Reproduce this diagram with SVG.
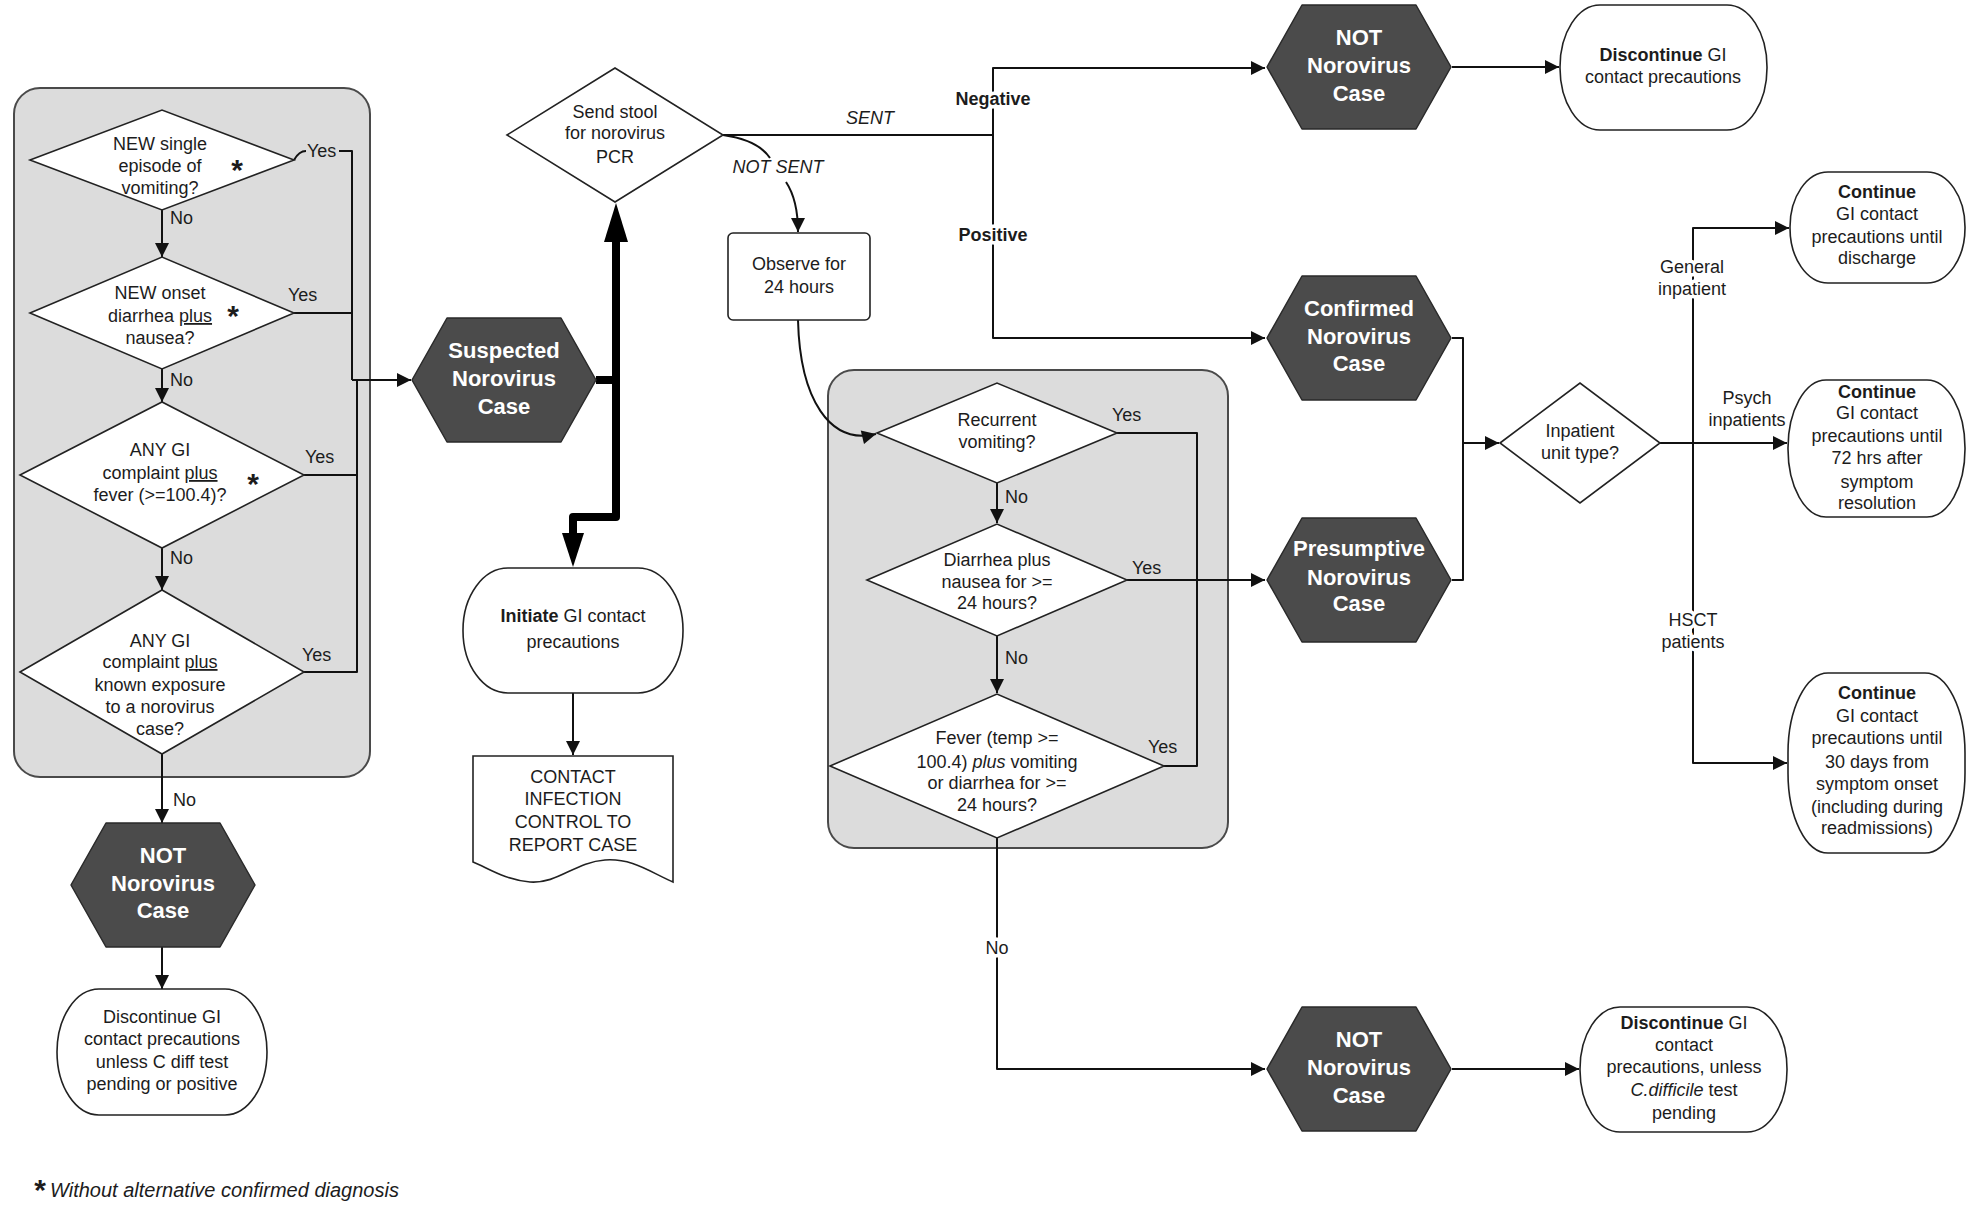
<svg xmlns="http://www.w3.org/2000/svg" width="1980" height="1212" viewBox="0 0 1980 1212">
<style>
text{font-family:"Liberation Sans",Arial,Helvetica,sans-serif;fill:#1c1c1c}
.t{font-size:18px;text-anchor:middle}
.ts{font-size:18px;text-anchor:start}
.h{font-size:22px;font-weight:bold;fill:#fff;text-anchor:middle}
.b{font-weight:bold}
.i{font-style:italic}
.u{text-decoration:underline}
.star{font-size:30px;font-weight:bold;text-anchor:middle}
.halo{stroke:#fff;stroke-width:7px;paint-order:stroke;stroke-linejoin:round}
.box{fill:#fff;stroke:#222;stroke-width:1.6}
.hex{fill:#4b4b4b;stroke:#2a2a2a;stroke-width:1.5;stroke-linejoin:round}
.cont{fill:#dcdcdc;stroke:#4a4a4a;stroke-width:2}
.ln{fill:none;stroke:#111;stroke-width:2;stroke-linejoin:round}
.lnt{fill:none;stroke:#000;stroke-width:8;stroke-linejoin:round}
.arr{marker-end:url(#ah)}
</style>
<defs>
<marker id="ah" viewBox="0 0 10 10" refX="10" refY="5" markerUnits="userSpaceOnUse" markerWidth="18" markerHeight="14" orient="auto">
<path d="M0,0 L10,5 L0,10 Z" fill="#111"/>
</marker>
<path id="hexp" d="M-92,0 L-57,-62 L57,-62 L92,0 L57,62 L-57,62 Z"/>
</defs>

<!-- containers -->
<g id="container1"><rect class="cont" x="14" y="88" width="356" height="689" rx="26"/></g>
<g id="container2"><rect class="cont" x="828" y="370" width="400" height="478" rx="26"/></g>

<!-- connectors -->
<g id="connectors">
<path class="ln arr" d="M162,210 V257"/>
<path class="ln arr" d="M162,369 V402"/>
<path class="ln arr" d="M162,548 V590"/>
<path class="ln arr" d="M162,754 V823"/>
<path class="ln arr" d="M162,947 V989"/>
<path class="ln" d="M294,160 Q299,151 306,151"/>
<path class="ln" d="M339,151 H352 V380"/>
<path class="ln" d="M294,313 H352"/>
<path class="ln" d="M304,475 H357 V380"/>
<path class="ln" d="M304,672 H357 V380"/>
<path class="ln arr" d="M352,380 H411"/>
<path class="lnt" d="M596,380 H616 V240"/>
<polygon points="604,242 628,242 616,203" fill="#000"/>
<path class="lnt" d="M616,380 V517 H573 V536"/>
<polygon points="562,533 584,533 573,567" fill="#000"/>
<path class="ln arr" d="M573,693 V755"/>
<path class="ln" d="M723,135 H993"/>
<path class="ln arr" d="M993,135 V68 H1265"/>
<path class="ln arr" d="M993,135 V338 H1265"/>
<path class="ln" d="M723,135 Q758,140 770,158"/>
<path class="ln arr" d="M786,182 Q798,200 798,232"/>
<path class="ln arr" d="M798,320 C800,400 830,445 876,434"/>
<path class="ln arr" d="M997,483 V523"/>
<path class="ln arr" d="M997,636 V693"/>
<path class="ln" d="M1117,433 H1197 V580"/>
<path class="ln arr" d="M1127,580 H1265"/>
<path class="ln" d="M1164,766 H1197 V580"/>
<path class="ln arr" d="M997,838 V1069 H1265"/>
<path class="ln arr" d="M1452,67 H1559"/>
<path class="ln arr" d="M1452,1069 H1579"/>
<path class="ln" d="M1452,338 H1463 V580 H1452"/>
<path class="ln arr" d="M1463,443 H1499"/>
<path class="ln arr" d="M1660,443 H1787"/>
<path class="ln arr" d="M1693,443 V228 H1789"/>
<path class="ln arr" d="M1693,443 V763 H1787"/>
<text class="ts" x="170" y="224">No</text>
<text class="ts" x="170" y="386">No</text>
<text class="ts" x="170" y="564">No</text>
<text class="ts" x="173" y="806">No</text>
<text class="ts" x="307" y="157">Yes</text>
<text class="ts" x="288" y="301">Yes</text>
<text class="ts" x="305" y="463">Yes</text>
<text class="ts" x="302" y="661">Yes</text>
<text class="t b halo" x="993" y="105">Negative</text>
<text class="t b halo" x="993" y="241">Positive</text>
<text class="t i" x="870" y="124">SENT</text>
<text class="t i" x="778" y="173">NOT SENT</text>
<text class="ts" x="1112" y="421">Yes</text>
<text class="ts" x="1132" y="574">Yes</text>
<text class="ts" x="1148" y="753">Yes</text>
<text class="ts" x="1005" y="503">No</text>
<text class="ts" x="1005" y="664">No</text>
<text class="t halo" x="997" y="954">No</text>
<text class="t halo" x="1692" y="273">General</text>
<text class="t halo" x="1692" y="295">inpatient</text>
<text class="t" x="1747" y="404">Psych</text>
<text class="t" x="1747" y="426">inpatients</text>
<text class="t halo" x="1693" y="626">HSCT</text>
<text class="t halo" x="1693" y="648">patients</text>
</g>

<!-- left column -->
<g id="q-vomit">
<polygon class="box" points="30,160 162,110 294,160 162,210"/>
<text class="t" x="160" y="150">NEW single</text>
<text class="t" x="160" y="172">episode of</text>
<text class="t" x="160" y="194">vomiting?</text>
<text class="star" x="237" y="180">*</text>
</g>
<g id="q-diarrhea">
<polygon class="box" points="30,313 162,257 294,313 162,369"/>
<text class="t" x="160" y="299">NEW onset</text>
<text class="t" x="160" y="322">diarrhea <tspan class="u">plus</tspan></text>
<text class="t" x="160" y="344">nausea?</text>
<text class="star" x="233" y="326">*</text>
</g>
<g id="q-fever">
<polygon class="box" points="20,475 162,402 304,475 162,548"/>
<text class="t" x="160" y="456">ANY GI</text>
<text class="t" x="160" y="479">complaint <tspan class="u">plus</tspan></text>
<text class="t" x="160" y="501">fever (&gt;=100.4)?</text>
<text class="star" x="253" y="494">*</text>
</g>
<g id="q-exposure">
<polygon class="box" points="20,672 162,590 304,672 162,754"/>
<text class="t" x="160" y="647">ANY GI</text>
<text class="t" x="160" y="668">complaint <tspan class="u">plus</tspan></text>
<text class="t" x="160" y="691">known exposure</text>
<text class="t" x="160" y="713">to a norovirus</text>
<text class="t" x="160" y="735">case?</text>
</g>
<g id="not-left">
<use href="#hexp" class="hex" x="163" y="885"/>
<text class="h" x="163" y="863">NOT</text>
<text class="h" x="163" y="891">Norovirus</text>
<text class="h" x="163" y="918">Case</text>
</g>
<g id="discontinue-left">
<rect class="box" x="57" y="989" width="210" height="126" rx="42" ry="63"/>
<text class="t" x="162" y="1023">Discontinue GI</text>
<text class="t" x="162" y="1045">contact precautions</text>
<text class="t" x="162" y="1068">unless C diff test</text>
<text class="t" x="162" y="1090">pending or positive</text>
</g>
<g id="footnote">
<text class="star" x="40" y="1200">*</text>
<text class="ts i" x="50" y="1197" style="font-size:20px">Without alternative confirmed diagnosis</text>
</g>

<!-- middle -->
<g id="suspected">
<use href="#hexp" class="hex" x="504" y="380"/>
<text class="h" x="504" y="358">Suspected</text>
<text class="h" x="504" y="386">Norovirus</text>
<text class="h" x="504" y="414">Case</text>
</g>
<g id="send-stool">
<polygon class="box" points="507,135 615,68 723,135 615,202"/>
<text class="t" x="615" y="118">Send stool</text>
<text class="t" x="615" y="139">for norovirus</text>
<text class="t" x="615" y="163">PCR</text>
</g>
<g id="initiate">
<rect class="box" x="463" y="568" width="220" height="125" rx="45" ry="62"/>
<text class="t" x="573" y="622"><tspan class="b">Initiate</tspan> GI contact</text>
<text class="t" x="573" y="648">precautions</text>
</g>
<g id="contact-ic">
<path class="box" d="M473,756 H673 V882 C650,872 632,858 605,860 C575,862 558,884 530,882 C505,880 488,868 473,862 Z"/>
<text class="t" x="573" y="783">CONTACT</text>
<text class="t" x="573" y="805">INFECTION</text>
<text class="t" x="573" y="828">CONTROL TO</text>
<text class="t" x="573" y="851">REPORT CASE</text>
</g>
<g id="observe">
<rect class="box" x="728" y="233" width="142" height="87" rx="5"/>
<text class="t" x="799" y="270">Observe for</text>
<text class="t" x="799" y="293">24 hours</text>
</g>
<g id="q-recurrent">
<polygon class="box" points="877,433 997,383 1117,433 997,483"/>
<text class="t" x="997" y="426">Recurrent</text>
<text class="t" x="997" y="448">vomiting?</text>
</g>
<g id="q-diarrhea24">
<polygon class="box" points="867,580 997,524 1127,580 997,636"/>
<text class="t" x="997" y="566">Diarrhea plus</text>
<text class="t" x="997" y="588">nausea for &gt;=</text>
<text class="t" x="997" y="609">24 hours?</text>
</g>
<g id="q-fever24">
<polygon class="box" points="830,766 997,694 1164,766 997,838"/>
<text class="t" x="997" y="744">Fever (temp &gt;=</text>
<text class="t" x="997" y="768">100.4) <tspan class="i">plus</tspan> vomiting</text>
<text class="t" x="997" y="789">or diarrhea for &gt;=</text>
<text class="t" x="997" y="811">24 hours?</text>
</g>

<!-- right -->
<g id="not-top">
<use href="#hexp" class="hex" x="1359" y="67"/>
<text class="h" x="1359" y="45">NOT</text>
<text class="h" x="1359" y="73">Norovirus</text>
<text class="h" x="1359" y="101">Case</text>
</g>
<g id="discontinue-top">
<rect class="box" x="1560" y="5" width="207" height="125" rx="40" ry="62"/>
<text class="t" x="1663" y="61"><tspan class="b">Discontinue</tspan> GI</text>
<text class="t" x="1663" y="83">contact precautions</text>
</g>
<g id="confirmed">
<use href="#hexp" class="hex" x="1359" y="338"/>
<text class="h" x="1359" y="316">Confirmed</text>
<text class="h" x="1359" y="344">Norovirus</text>
<text class="h" x="1359" y="371">Case</text>
</g>
<g id="presumptive">
<use href="#hexp" class="hex" x="1359" y="580"/>
<text class="h" x="1359" y="556">Presumptive</text>
<text class="h" x="1359" y="585">Norovirus</text>
<text class="h" x="1359" y="611">Case</text>
</g>
<g id="not-bottom">
<use href="#hexp" class="hex" x="1359" y="1069"/>
<text class="h" x="1359" y="1047">NOT</text>
<text class="h" x="1359" y="1075">Norovirus</text>
<text class="h" x="1359" y="1103">Case</text>
</g>
<g id="discontinue-bottom">
<rect class="box" x="1580" y="1007" width="207" height="125" rx="40" ry="62"/>
<text class="t" x="1684" y="1029"><tspan class="b">Discontinue</tspan> GI</text>
<text class="t" x="1684" y="1051">contact</text>
<text class="t" x="1684" y="1073">precautions, unless</text>
<text class="t" x="1684" y="1096"><tspan class="i">C.difficile</tspan> test</text>
<text class="t" x="1684" y="1119">pending</text>
</g>
<g id="q-unit">
<polygon class="box" points="1500,443 1580,383 1660,443 1580,503"/>
<text class="t" x="1580" y="437">Inpatient</text>
<text class="t" x="1580" y="459">unit type?</text>
</g>
<g id="continue-discharge">
<rect class="box" x="1790" y="172" width="175" height="111" rx="38" ry="55"/>
<text class="t b" x="1877" y="198">Continue</text>
<text class="t" x="1877" y="220">GI contact</text>
<text class="t" x="1877" y="243">precautions until</text>
<text class="t" x="1877" y="264">discharge</text>
</g>
<g id="continue-72">
<rect class="box" x="1788" y="380" width="177" height="137" rx="38" ry="68"/>
<text class="t b" x="1877" y="398">Continue</text>
<text class="t" x="1877" y="419">GI contact</text>
<text class="t" x="1877" y="442">precautions until</text>
<text class="t" x="1877" y="464">72 hrs after</text>
<text class="t" x="1877" y="488">symptom</text>
<text class="t" x="1877" y="509">resolution</text>
</g>
<g id="continue-30">
<rect class="box" x="1788" y="673" width="177" height="180" rx="40" ry="80"/>
<text class="t b" x="1877" y="699">Continue</text>
<text class="t" x="1877" y="722">GI contact</text>
<text class="t" x="1877" y="744">precautions until</text>
<text class="t" x="1877" y="768">30 days from</text>
<text class="t" x="1877" y="790">symptom onset</text>
<text class="t" x="1877" y="813">(including during</text>
<text class="t" x="1877" y="834">readmissions)</text>
</g>
</svg>
